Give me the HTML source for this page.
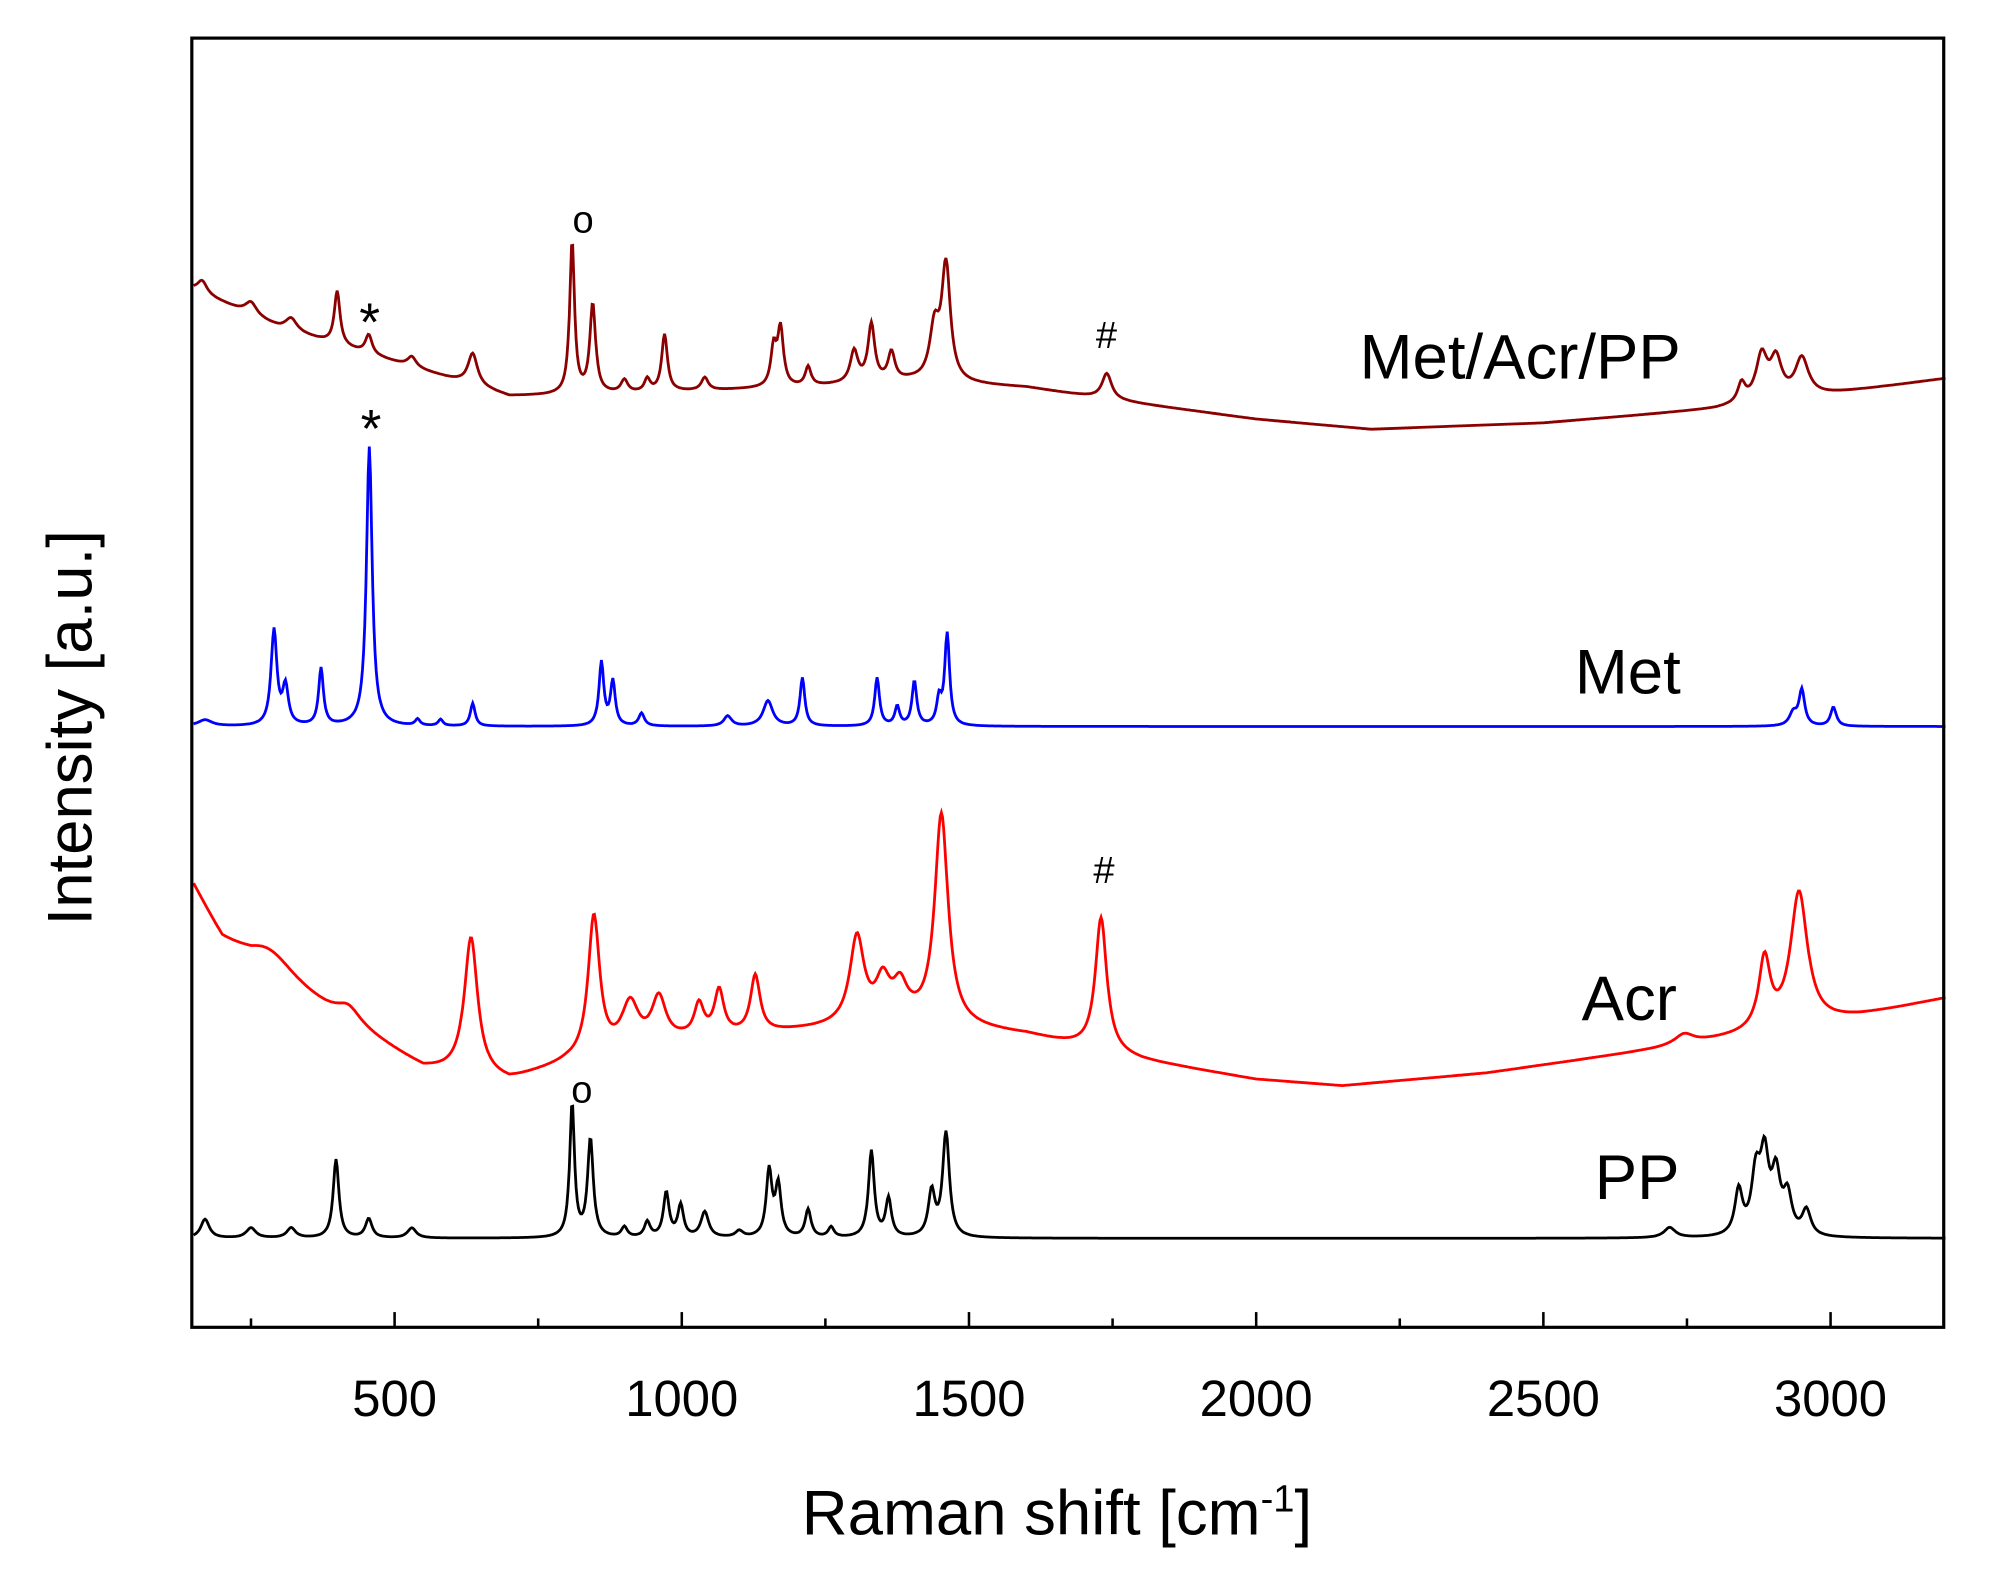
<!DOCTYPE html>
<html><head><meta charset="utf-8"><style>
html,body{margin:0;padding:0;background:#fff;}
svg{display:block;}
text{font-family:"Liberation Sans",Arial,sans-serif;}
</style></head><body>
<svg id="chart" width="1992" height="1575" viewBox="0 0 1568 1240" preserveAspectRatio="none" xmlns="http://www.w3.org/2000/svg">
<rect x="0" y="0" width="1568" height="1240" fill="#fff"/>
<g id="series"></g>
<rect x="151" y="30" width="1379" height="1015" fill="none" stroke="#000" stroke-width="2.5"/>
<g id="ticks"></g>
<text x="832" y="1208" font-size="50" text-anchor="middle">Raman shift [cm<tspan dy="-18" font-size="30">-1</tspan><tspan dy="18">]</tspan></text>
<text transform="translate(72,573) rotate(-90)" font-size="50" text-anchor="middle">Intensity [a.u.]</text>
<text x="1323" y="298" font-size="50" text-anchor="end">Met/Acr/PP</text>
<text x="1323" y="546" font-size="50" text-anchor="end">Met</text>
<text x="1320" y="803" font-size="50" text-anchor="end">Acr</text>
<text x="1322" y="944" font-size="50" text-anchor="end">PP</text>
<text x="459" y="183" font-size="30" text-anchor="middle">o</text>
<text x="291" y="268" font-size="42" text-anchor="middle">*</text>
<text x="871" y="274" font-size="30" text-anchor="middle">#</text>
<text x="292" y="352" font-size="42" text-anchor="middle">*</text>
<text x="869" y="695" font-size="30" text-anchor="middle">#</text>
<text x="458" y="868" font-size="30" text-anchor="middle">o</text>
</svg>
<script>
// x-axis
const xTicks = [500, 1000, 1500, 2000, 2500, 3000];
const xMinor = [250, 750, 1250, 1750, 2250, 2750];
// PP (black)
const ppBase = [[150,975],[3200,975]];
const ppPeaks = [[170,15,9],[250,8,10],[320,8,9],[398,62,6],[455,15,7],[530,8,9],[809,105,5],[841,77,6],[900,8,6],[940,12,6],[973,35,6],[998,25,6],[1040,20,8],[1100,5,8],[1152,52,6],[1168,40,6],[1220,22,6],[1260,8,6],[1330,68,6],[1360,30,6],[1435,35,7],[1460,82,7],[2720,8,12],[2840,35,8],[2870,45,9],[2885,58,9],[2905,45,9],[2925,30,9],[2958,20,9]];
// Met (blue)
const metBase = [[150,572],[3200,572]];
const metPeaks = [[170,5,15],[290,75,6],[310,30,6],[372,45,5],[456,220,6],[540,5,5],[580,5,5],[636,18,5],[860,50,5],[880,35,5],[930,10,6],[1080,8,8],[1150,20,10],[1210,38,5],[1340,38,5],[1375,15,5],[1405,35,5],[1448,20,5],[1462,72,5],[2935,10,8],[2950,28,6],[3005,15,6]];
// Acr (red)
const acrBase = [[150,700],[200,745],[250,765],[350,790],[450,815],[550,842],[700,852],[800,838],[1000,820],[1200,812],[1400,805],[1600,815],[1800,835],[2000,850],[2150,855],[2400,845],[2700,826],[2900,812],[3050,800],[3200,786]];
const acrPeaks = [[280,25,60],[420,12,25],[633,108,14],[847,110,12],[910,35,18],[960,35,15],[1030,25,10],[1065,35,10],[1128,45,10],[1305,68,15],[1350,30,15],[1380,25,15],[1452,165,14],[1730,105,12],[2745,8,20],[2885,55,12],[2945,105,18]];
// Met/Acr/PP (dark red)
const mixBase = [[150,228],[300,258],[500,285],[700,312],[900,310],[1200,305],[1400,300],[1600,305],[1800,318],[2000,330],[2200,338],[2500,333],[2800,322],[3000,310],[3200,298]];
const mixPeaks = [[165,10,10],[250,10,12],[320,10,12],[400,42,6],[455,15,7],[530,8,9],[636,25,10],[809,120,5],[845,70,6],[900,10,7],[940,10,6],[970,45,6],[1040,10,7],[1160,30,6],[1172,45,6],[1220,15,6],[1300,25,8],[1330,45,7],[1365,22,7],[1440,40,10],[1460,90,9],[1740,20,10],[2845,15,8],[2880,35,12],[2905,30,12],[2950,30,14]];

const X0=151, X1=1530, XMIN=147, XMAX=3197;
function xs(v){return X0+(v-XMIN)/(XMAX-XMIN)*(X1-X0);}
const NS="http://www.w3.org/2000/svg";
function baseAt(b,x){for(let i=0;i<b.length-1;i++){if(x<=b[i+1][0]){const t=(x-b[i][0])/(b[i+1][0]-b[i][0]);return b[i][1]+t*(b[i+1][1]-b[i][1]);}}return b[b.length-1][1];}
function path(base,peaks){let d="";for(let x=150;x<=3200;x+=2){let y=baseAt(base,x);for(const p of peaks){const u=(x-p[0])/p[2];y-=p[1]/(1+u*u);}d+=(d?"L":"M")+xs(x).toFixed(1)+","+y.toFixed(1);}return d;}
const sg=document.getElementById("series");
function draw(name,base,peaks,color){const p=document.createElementNS(NS,"path");p.setAttribute("d",path(base,peaks));p.setAttribute("fill","none");p.setAttribute("stroke",color);p.setAttribute("stroke-width","2.2");


sg.appendChild(p);}
draw("series-pp",ppBase,ppPeaks,"#000");
draw("series-met",metBase,metPeaks,"#0000ff");
draw("series-acr",acrBase,acrPeaks,"#ff0000");
draw("series-met-acr-pp",mixBase,mixPeaks,"#8b0000");
const tg=document.getElementById("ticks");
for(const v of xTicks){const l=document.createElementNS(NS,"line");l.setAttribute("x1",xs(v));l.setAttribute("x2",xs(v));l.setAttribute("y1",1045);l.setAttribute("y2",1033);l.setAttribute("stroke","#000");l.setAttribute("stroke-width","2");


tg.appendChild(l);
const t=document.createElementNS(NS,"text");t.setAttribute("x",xs(v));t.setAttribute("y",1115);t.setAttribute("font-size","40");t.setAttribute("text-anchor","middle");t.textContent=v;


tg.appendChild(t);}
for(const v of xMinor){const l=document.createElementNS(NS,"line");l.setAttribute("x1",xs(v));l.setAttribute("x2",xs(v));l.setAttribute("y1",1045);l.setAttribute("y2",1038);l.setAttribute("stroke","#000");l.setAttribute("stroke-width","2");


tg.appendChild(l);}
</script>
</body></html>
